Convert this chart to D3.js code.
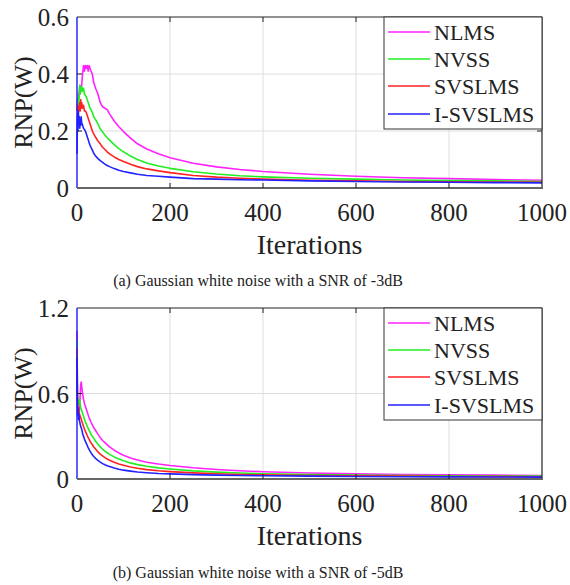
<!DOCTYPE html>
<html>
<head>
<meta charset="utf-8">
<script src="https://cdn.jsdelivr.net/npm/d3@7/dist/d3.min.js"></script>
</head>
<body style="margin:0; background:#fff">
<script>
// sample iterations (denser at the start, where the curves are noisy)
var iters = [ 0, 1, 2, 3, 4, 5, 6, 7, 8, 9, 10, 12, 14, 16, 18, 20, 22, 24, 26, 28, 30, 33, 36, 40, 45, 50, 55, 60, 65, 70, 80, 90, 100, 115, 130, 150, 175, 200, 250, 300, 350, 400, 500, 600, 700, 800, 900, 1000 ];

var seriesNames = [ "NLMS", "NVSS", "SVSLMS", "I-SVSLMS" ];
var seriesColors = [ "#ff22ff", "#22ee22", "#ff2222", "#2222ff" ];
var xTicks = [ 0, 200, 400, 600, 800, 1000 ];

// (a) SNR -3dB
var nlmsA = [ 0.29, 0.31, 0.30, 0.33, 0.32, 0.34, 0.36, 0.33, 0.35, 0.34, 0.36, 0.40, 0.43, 0.41, 0.43, 0.42, 0.43, 0.41, 0.43, 0.42, 0.41, 0.40, 0.37, 0.35, 0.33, 0.30, 0.285, 0.28, 0.275, 0.26, 0.235, 0.215, 0.198, 0.175, 0.155, 0.137, 0.12, 0.106, 0.087, 0.074, 0.065, 0.058, 0.048, 0.041, 0.036, 0.033, 0.030, 0.027 ];
var nvssA = [ 0.27, 0.30, 0.28, 0.32, 0.30, 0.33, 0.36, 0.33, 0.35, 0.34, 0.355, 0.34, 0.35, 0.33, 0.325, 0.32, 0.31, 0.30, 0.29, 0.28, 0.275, 0.265, 0.25, 0.24, 0.225, 0.207, 0.197, 0.186, 0.176, 0.168, 0.152, 0.138, 0.127, 0.112, 0.1, 0.088, 0.077, 0.069, 0.057, 0.049, 0.043, 0.039, 0.034, 0.031, 0.028, 0.026, 0.025, 0.023 ];
var svslmsA = [ 0.27, 0.29, 0.26, 0.28, 0.27, 0.29, 0.30, 0.27, 0.31, 0.28, 0.30, 0.28, 0.29, 0.27, 0.27, 0.265, 0.255, 0.245, 0.235, 0.225, 0.215, 0.20, 0.19, 0.178, 0.165, 0.155, 0.143, 0.135, 0.127, 0.12, 0.109, 0.10, 0.093, 0.083, 0.075, 0.067, 0.06, 0.054, 0.044, 0.038, 0.034, 0.031, 0.027, 0.025, 0.023, 0.022, 0.021, 0.02 ];
var isvslmsA = [ 0.12, 0.26, 0.20, 0.27, 0.22, 0.25, 0.21, 0.24, 0.22, 0.25, 0.23, 0.22, 0.21, 0.205, 0.2, 0.19, 0.18, 0.17, 0.16, 0.15, 0.143, 0.133, 0.122, 0.112, 0.103, 0.096, 0.09, 0.084, 0.079, 0.075, 0.068, 0.062, 0.058, 0.053, 0.048, 0.044, 0.041, 0.038, 0.033, 0.031, 0.029, 0.028, 0.025, 0.023, 0.021, 0.02, 0.019, 0.018 ];

// (b) SNR -5dB
var nlmsB = [ 1.04, 0.55, 0.45, 0.50, 0.42, 0.48, 0.52, 0.60, 0.66, 0.68, 0.65, 0.60, 0.56, 0.53, 0.51, 0.49, 0.47, 0.45, 0.43, 0.415, 0.40, 0.38, 0.36, 0.34, 0.315, 0.29, 0.27, 0.255, 0.24, 0.225, 0.202, 0.183, 0.167, 0.148, 0.133, 0.118, 0.105, 0.095, 0.079, 0.067, 0.058, 0.051, 0.042, 0.036, 0.032, 0.029, 0.027, 0.025 ];
var nvssB = [ 0.97, 0.60, 0.55, 0.52, 0.56, 0.53, 0.55, 0.52, 0.50, 0.49, 0.48, 0.46, 0.44, 0.42, 0.40, 0.385, 0.37, 0.355, 0.34, 0.33, 0.315, 0.30, 0.285, 0.265, 0.245, 0.225, 0.21, 0.196, 0.184, 0.173, 0.155, 0.14, 0.128, 0.113, 0.101, 0.089, 0.078, 0.07, 0.057, 0.048, 0.042, 0.037, 0.031, 0.027, 0.024, 0.022, 0.021, 0.02 ];
var svslmsB = [ 0.92, 0.55, 0.50, 0.47, 0.50, 0.46, 0.45, 0.44, 0.43, 0.42, 0.41, 0.39, 0.37, 0.35, 0.335, 0.32, 0.305, 0.29, 0.28, 0.265, 0.255, 0.24, 0.225, 0.21, 0.19, 0.175, 0.162, 0.15, 0.14, 0.132, 0.117, 0.106, 0.096, 0.084, 0.075, 0.066, 0.058, 0.052, 0.043, 0.037, 0.032, 0.029, 0.025, 0.022, 0.02, 0.018, 0.017, 0.016 ];
var isvslmsB = [ 0.85, 0.45, 0.50, 0.42, 0.46, 0.41, 0.40, 0.38, 0.37, 0.36, 0.35, 0.32, 0.30, 0.28, 0.265, 0.25, 0.235, 0.22, 0.208, 0.196, 0.185, 0.17, 0.158, 0.145, 0.13, 0.118, 0.108, 0.10, 0.093, 0.087, 0.077, 0.069, 0.062, 0.055, 0.049, 0.044, 0.039, 0.036, 0.031, 0.027, 0.025, 0.023, 0.02, 0.018, 0.016, 0.015, 0.014, 0.013 ];

var yTicksA = [ 0, 0.2, 0.4, 0.6 ];
var yTicksB = [ 0, 0.6, 1.2 ];

var svg = d3.select( "body" ).append( "svg" )
	.attr( "width", 570 )
	.attr( "height", 585 )
	.style( "display", "block" );

// every label goes through here so the serif face is always set
function label( sel, size ) {
	return sel.attr( "font-family", "Liberation Serif" )
		.style( "font-family", "'Liberation Serif', serif" )
		.attr( "font-size", size )
		.attr( "fill", "#222" );
}

// draws one panel: frame, grid, curves, legend, labels
function drawPanel( top, yMax, yTicks, series, caption, captionY ) {
	var left = 77, right = 542, height = 171;

	var x = d3.scaleLinear().domain( [ 0, 1000 ] ).range( [ left, right ] );
	var y = d3.scaleLinear().domain( [ 0, yMax ] ).range( [ top + height, top ] );

	var g = svg.append( "g" );

	// grid
	g.selectAll( ".vgrid" ).data( xTicks.slice( 1, -1 ) ).enter().append( "line" )
		.attr( "x1", x ).attr( "x2", x )
		.attr( "y1", top ).attr( "y2", top + height )
		.attr( "stroke", "#dedede" ).attr( "stroke-width", 1 );
	g.selectAll( ".hgrid" ).data( yTicks.slice( 1, -1 ) ).enter().append( "line" )
		.attr( "x1", left ).attr( "x2", right )
		.attr( "y1", y ).attr( "y2", y )
		.attr( "stroke", "#dedede" ).attr( "stroke-width", 1 );

	// curves
	var line = d3.line()
		.x( function ( d, i ) { return x( iters[ i ] ); } )
		.y( function ( d ) { return y( d ); } );

	series.forEach( function ( s, i ) {
		g.append( "path" )
			.datum( s )
			.attr( "fill", "none" )
			.attr( "stroke", seriesColors[ i ] )
			.attr( "stroke-width", 1.6 )
			.attr( "stroke-linejoin", "round" )
			.attr( "d", line );
	} );

	// frame
	g.append( "line" ).attr( "x1", left ).attr( "x2", right ).attr( "y1", top ).attr( "y2", top )
		.attr( "stroke", "#222" ).attr( "stroke-width", 1 );
	g.append( "line" ).attr( "x1", right ).attr( "x2", right ).attr( "y1", top ).attr( "y2", top + height )
		.attr( "stroke", "#222" ).attr( "stroke-width", 1.2 );
	g.append( "line" ).attr( "x1", left ).attr( "x2", left ).attr( "y1", top ).attr( "y2", top + height )
		.attr( "stroke", "#1a1aff" ).attr( "stroke-width", 1.4 );
	g.append( "line" ).attr( "x1", left ).attr( "x2", right + 1 ).attr( "y1", top + height ).attr( "y2", top + height )
		.attr( "stroke", "#666" ).attr( "stroke-width", 2 );

	// inner ticks
	g.selectAll( ".xt" ).data( xTicks.slice( 1, -1 ) ).enter().append( "path" )
		.attr( "d", function ( d ) {
			return "M" + x( d ) + "," + ( top + height ) + "v-5M" + x( d ) + "," + top + "v5";
		} )
		.attr( "stroke", "#222" ).attr( "stroke-width", 1 );
	g.selectAll( ".yt" ).data( yTicks.slice( 1, -1 ) ).enter().append( "path" )
		.attr( "d", function ( d ) {
			return "M" + left + "," + y( d ) + "h5M" + right + "," + y( d ) + "h-5";
		} )
		.attr( "stroke", "#222" ).attr( "stroke-width", 1 );

	// tick labels
	label( g.selectAll( ".xl" ).data( xTicks ).enter().append( "text" ), 25 )
		.attr( "x", x ).attr( "y", top + height + 33 )
		.attr( "text-anchor", "middle" )
		.text( function ( d ) { return d; } );
	label( g.selectAll( ".yl" ).data( yTicks ).enter().append( "text" ), 25 )
		.attr( "x", left - 8 ).attr( "y", function ( d ) { return y( d ) + 9; } )
		.attr( "text-anchor", "end" )
		.text( function ( d ) { return d; } );

	// axis titles
	label( g.append( "text" ), 28 )
		.attr( "x", ( left + right ) / 2 ).attr( "y", top + height + 66 )
		.attr( "text-anchor", "middle" )
		.text( "Iterations" );
	label( g.append( "text" ), 26 )
		.attr( "transform", "translate(32," + ( top + height / 2 ) + ") rotate(-90)" )
		.attr( "text-anchor", "middle" )
		.text( "RNP(W)" );

	// legend
	var lx = 384, lw = right - lx;
	g.append( "rect" )
		.attr( "x", lx ).attr( "y", top ).attr( "width", lw ).attr( "height", 112 )
		.attr( "fill", "#fff" ).attr( "stroke", "#333" ).attr( "stroke-width", 1 );
	var rowY = [ 15, 42, 69, 97 ];
	seriesNames.forEach( function ( name, i ) {
		g.append( "line" )
			.attr( "x1", lx + 4 ).attr( "x2", lx + 46 )
			.attr( "y1", top + rowY[ i ] ).attr( "y2", top + rowY[ i ] )
			.attr( "stroke", seriesColors[ i ] ).attr( "stroke-width", 1.5 );
		label( g.append( "text" ), 22 )
			.attr( "x", lx + 50 ).attr( "y", top + rowY[ i ] + 8 )
			.text( name );
	} );

	// caption
	label( svg.append( "text" ), 16 )
		.attr( "x", 258 ).attr( "y", captionY )
		.attr( "text-anchor", "middle" )
		.text( caption );
}

drawPanel( 17, 0.6, yTicksA, [ nlmsA, nvssA, svslmsA, isvslmsA ], "(a) Gaussian white noise with a SNR of -3dB", 286 );
drawPanel( 308, 1.2, yTicksB, [ nlmsB, nvssB, svslmsB, isvslmsB ], "(b) Gaussian white noise with a SNR of -5dB", 578 );
</script>
</body>
</html>
